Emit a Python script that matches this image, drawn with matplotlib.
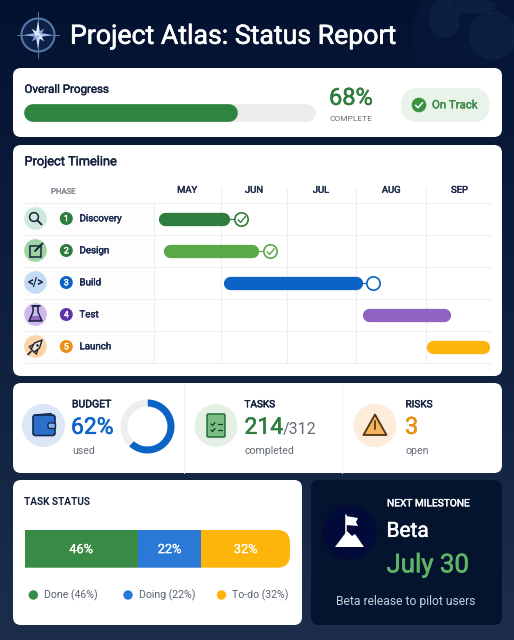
import matplotlib
matplotlib.use('Agg')
import matplotlib.pyplot as plt
import matplotlib.patheffects as pe
import numpy as np
from matplotlib.patches import Circle, FancyBboxPatch, Polygon, Rectangle
from matplotlib.path import Path

plt.rcParams['font.family'] = ['Roboto', 'DejaVu Sans']

W, H = 514, 640

# Data
progress_label = '68%'
progress_fill = 73.3  # the drawn bar is longer than the printed 68%
progress_track = 100

phases = ['Discovery', 'Design', 'Build', 'Test', 'Launch']
phase_starts = [0.06, 0.14, 1.02, 3.08, 4.03]  # in months from May 1
phase_ends = [1.12, 1.55, 3.09, 4.39, 4.97]
phase_colors = ['#2e7d3e', '#59a948', '#0b63c6', '#9062c4', '#fdb50c']
badge_colors = ['#2e7d3e', '#2e7d3e', '#0b63c6', '#5e35a8', '#ec8f14']
icon_colors = ['#cfe8dc', '#9fd3a2', '#c3dbf5', '#cfb8ea', '#fbd6a5']
milestone_pos = [1.283, 1.72, 3.24]
month_names = ['MAY', 'JUN', 'JUL', 'AUG', 'SEP']
month_centers = [0.49, 1.48, 2.47, 3.51, 4.52]
month_edges = [0, 0.985, 1.97, 2.99, 4.02]

budget_used = [62, 38]

status_names = ['Done (46%)', 'Doing (22%)', 'To-do (32%)']
status_labels = ['46%', '22%', '32%']
status_widths = [42.7, 23.8, 33.5]  # drawn lengths, % of bar
status_colors = ['#388a45', '#2a79d6', '#fdb50c']

NAVY = '#14213d'
GRAY = '#666c76'

fig = plt.figure(figsize=(W / 100, H / 100), dpi=100)


def px_axes(x0, y0, x1, y1, z=2):
    a = fig.add_axes([x0 / W, 1 - y1 / H, (x1 - x0) / W, (y1 - y0) / H], zorder=z)
    a.axis('off')
    return a


def pill(a, s, e, y, h, color, z=3):
    # bar with round ends, h in pixels
    pos = a.get_position()
    lo, hi = a.get_xlim()
    cap = (h / 2) / (pos.width * W / (hi - lo))
    a.plot([s + cap, e - cap], [y, y], color=color, lw=h * 0.72, solid_capstyle='round',
           zorder=z, clip_on=False)


# page background, all pixel coordinates
bg = px_axes(0, 0, W, H, z=0)
grad = np.linspace(0, 1, 256).reshape(-1, 1)
top, bottom = np.array([3, 18, 48]), np.array([28, 46, 76])
img = (top + (bottom - top) * grad) / 255
bg.imshow(img[:, None, :], extent=(0, W, H, 0), aspect='auto', zorder=0)
bg.set_xlim(0, W)
bg.set_ylim(H, 0)

# globe in the corner
gx, gy = np.meshgrid(np.arange(412, 516, 2.0), np.arange(0, 68, 2.0))
in_globe = (gx - 478) ** 2 + (gy - 38) ** 2 < 66 ** 2
land = (((gx - 492) / 24) ** 2 + ((gy - 35) / 24) ** 2 < 1) | \
       (((gx - 444) / 16) ** 2 + ((gy - 18) / 20) ** 2 < 1) | \
       (((gx - 470) / 26) ** 2 + ((gy - 6) / 8) ** 2 < 1)
bg.add_patch(Circle((478, 38), 66, color='#051636', zorder=1, lw=0))
bg.scatter(gx[in_globe & land], gy[in_globe & land], s=1.6, color='#14274b', lw=0, zorder=1)


def card(x0, y0, x1, y1, color='white', r=8):
    bg.add_patch(FancyBboxPatch((x0, y0), x1 - x0, y1 - y0, boxstyle=f'round,pad=0,rounding_size={r}',
                                fc=color, ec='none', zorder=2))


def label(x, y, s, size, color=NAVY, weight='medium', ha='left', z=6):
    # the font has no medium cut, so thicken the regular one a little
    t = bg.text(x, y + 0.8, s, fontsize=size, color=color, ha=ha, va='center', zorder=z)
    if weight == 'medium':
        t.set_path_effects([pe.withStroke(linewidth=0.2 + size * 0.012, foreground=color)])
    elif weight == 'bold':
        t.set_fontweight('bold')
    return t


def circle(x, y, r, color, z=4, **kw):
    bg.add_patch(Circle((x, y), r, color=color, lw=kw.pop('lw', 0), zorder=z, **kw))


def poly(points, fc='none', ec='none', lw=1.0, z=5):
    bg.add_patch(Polygon(points, closed=True, fc=fc, ec=ec, lw=lw, zorder=z, joinstyle='round'))


def stroke(xs, ys, color, lw=1.0, z=5):
    bg.plot(xs, ys, color=color, lw=lw, zorder=z, solid_capstyle='round', solid_joinstyle='round')


card(13, 68, 502, 137)
card(13, 145, 502, 376)
card(13, 383, 502, 473)
card(13, 480, 302, 625)
card(311, 480, 502, 625, color='#04142f')

# header: compass and title
bg.add_patch(Circle((38, 35), 16.5, fc='#0d2147', ec='#5577a8', lw=1.5, zorder=3))
stroke([38, 38], [12, 58], '#5a7cae', 0.7, z=3)
stroke([17, 59], [35, 35], '#5a7cae', 0.7, z=3)
for ang, ln, col in [(0, 14, '#e8f0ff'), (90, 14, '#a9c2ea'), (180, 14, '#cfdcf5'), (270, 14, '#8fb0e6'),
                     (45, 9, '#8fb0e6'), (135, 9, '#dfe8fa'), (225, 9, '#8fb0e6'), (315, 9, '#dfe8fa')]:
    t = np.radians(ang)
    tip = (38 + ln * np.sin(t), 35 - ln * np.cos(t))
    side = (2.4 * np.cos(t), 2.4 * np.sin(t))
    poly([tip, (38 + side[0], 35 + side[1]), (38 - side[0], 35 - side[1])], fc=col, z=4)
label(70, 35.5, 'Project Atlas: Status Report', 19.2, 'white')

# overall progress
label(24.5, 88.5, 'Overall Progress', 8.3)
prog = px_axes(24.5, 104, 316, 122)
prog.set_xlim(0, progress_track)
prog.set_ylim(-1, 1)
pill(prog, 0, progress_track, 0, 17.7, '#ececec', z=2)
pill(prog, 0, progress_fill, 0, 17.7, '#2e8540')
label(329, 97.5, progress_label, 17, '#2e7d3e')
label(329.5, 118, 'COMPLETE', 6, GRAY, weight='normal')
bg.add_patch(FancyBboxPatch((401, 88), 88.5, 34, boxstyle='round,pad=0,rounding_size=17',
                            fc='#e9f3ea', ec='none', zorder=3))
circle(419, 105, 7.3, '#3a9142')
stroke([415.5, 418, 422.5], [105.2, 107.8, 102.6], 'white', 1.1)
label(432, 104.5, 'On Track', 8.2, '#3a8a45')

# timeline
label(24.5, 161, 'Project Timeline', 9.2)
label(51, 191, 'PHASE', 5.6, '#8a8f98')
for i, name in enumerate(phases):
    yc = 219 + 32 * i
    bg.add_patch(Rectangle((18, yc - 16), 136, 32, fc='#fdfdfe', ec='none', zorder=3))
    circle(35.5, yc - 0.5, 11.3, icon_colors[i])
    circle(66.3, yc - 0.5, 6.5, badge_colors[i])
    label(66.3, yc - 1, str(i + 1), 6.3, 'white', ha='center')
    label(79.5, yc - 1.5, name, 7, '#1b2a4e')

# phase icons
dk = '#16233f'
circle(34, 217, 4.4, 'none', fill=False, ec=dk, lw=1.1, z=5)
stroke([37.3, 41.5], [220.3, 224.5], dk, 1.3)
bg.add_patch(Rectangle((30, 246), 10.5, 10.5, fc='none', ec=dk, lw=1.1, zorder=5))
stroke([35, 42.5], [251, 243.5], dk, 1.4)
label(35.5, 281.5, '</>', 8.4, dk, weight='bold', ha='center')
poly([(33, 306), (38, 306), (38, 312), (42, 321), (29, 321), (33, 312)], ec=dk, lw=1.1)
stroke([31.5, 39.5], [305.5, 305.5], dk, 1.2)
poly([(30, 318), (30, 316), (38, 316), (41, 318), (41, 321), (30, 321)], fc='#8f6ac0', z=4)
poly([(42, 340), (39.5, 348), (34, 352), (31, 349), (34.5, 343)], fc='#f7e6cb', ec=dk, lw=1.0)
circle(37.5, 345.5, 1.3, dk, z=6)
poly([(33, 344.5), (29, 346.5), (31.5, 349.5)], fc='#e15b2c', ec=dk, lw=0.7)
poly([(38, 350), (36.5, 354.5), (34, 352)], fc='#e15b2c', ec=dk, lw=0.7)
stroke([28, 31], [354.5, 351.5], dk, 1.2)

gantt = px_axes(154, 188, 492, 363)
gantt.set_xlim(0, 5)
gantt.set_ylim(4.5, -0.97)
gantt.hlines(np.arange(-0.5, 5), -1.93, 5, color='#eff1f3', lw=0.8, zorder=1, clip_on=False)
gantt.vlines(month_edges[1:], -0.97, 4.5, color='#eceef1', lw=0.8, zorder=1)
gantt.vlines(month_edges[0], -0.5, 4.5, color='#eceef1', lw=0.8, zorder=1)
for m, c in zip(month_names, month_centers):
    t = gantt.text(c, -0.9, m, fontsize=6.8, color='#1e2a4a', ha='center', va='center')
    t.set_path_effects([pe.withStroke(linewidth=0.3, foreground='#1e2a4a')])
for i in range(len(phases)):
    pill(gantt, phase_starts[i], phase_ends[i], i, 13.3, phase_colors[i])
check = Path([(-0.5, 0.0), (-0.12, -0.38), (0.55, 0.42)])
for i, mx in enumerate(milestone_pos):
    gantt.plot([phase_ends[i], mx], [i, i], color=phase_colors[i], lw=0.9, zorder=2)
    gantt.plot(mx, i, 'o', ms=9.6, mfc='white', mec=phase_colors[i], mew=1.2, zorder=4)
    if i < 2:
        gantt.plot(mx, i, marker=check, ms=6, mfc='none', mec=phase_colors[i], mew=1.0, zorder=5)

# kpi row
for x in [184, 342]:
    stroke([x, x], [383, 473], '#eef1f5', 0.8, z=3)
for x, col in [(43.5, '#dbe7f6'), (216, '#e5f0e5'), (375, '#fdecd9')]:
    circle(x, 425.5, 21.5, col, z=3)

label(72, 403.5, 'BUDGET', 7.5)
label(71, 426.5, '62%', 16.5, '#0b63c6')
label(72, 450, 'used', 7.6, GRAY, weight='normal')
bg.add_patch(FancyBboxPatch((33, 415), 22, 20.5, boxstyle='round,pad=0,rounding_size=2.5',
                            fc='#2d6fc9', ec='#12294f', lw=1.2, zorder=4))
bg.add_patch(FancyBboxPatch((48, 423), 7.5, 5.5, boxstyle='round,pad=0,rounding_size=1.5',
                            fc='#7fb0ea', ec='#12294f', lw=1.0, zorder=5))
stroke([35, 51, 51.5], [415, 413.5, 415], '#12294f', 1.0)

donut = px_axes(120.5, 399.5, 174.5, 453.5)
donut.pie(budget_used, colors=['#0b63c6', '#eeeeee'], startangle=90, counterclock=False, radius=1,
          wedgeprops=dict(width=0.26, lw=0))
donut.set_xlim(-1, 1)
donut.set_ylim(-1, 1)

label(244.5, 403.5, 'TASKS', 7.2)
label(244.5, 426.5, '214', 16.5, '#2e7d3e')
label(283, 429, '/312', 11.5, GRAY, weight='normal')
label(244.5, 450, 'completed', 7.6, GRAY, weight='normal')
bg.add_patch(FancyBboxPatch((207, 414), 18, 23, boxstyle='round,pad=0,rounding_size=1.5',
                            fc='#7cbd84', ec='#1f6b35', lw=1.1, zorder=4))
for yy in [424, 430]:
    stroke([211, 212.5, 215], [yy, yy + 1.5, yy - 1.5], '#123f22', 0.9)
    stroke([217.5, 222], [yy, yy], '#123f22', 0.9)

label(405.5, 403.5, 'RISKS', 7.2)
label(405, 426.5, '3', 17, '#e8901a')
label(405.5, 450, 'open', 7.6, GRAY, weight='normal')
poly([(375, 414.5), (386.5, 435), (363.5, 435)], fc='#f6b45c', ec='#4a3413', lw=1.3)
stroke([375, 375], [421, 429], '#4a3413', 1.2)
stroke([375, 375], [432, 432.2], '#4a3413', 1.3)

# task status
label(24.5, 501.5, 'TASK STATUS', 7.2, weight='bold')
stack = px_axes(24.5, 530, 290, 567.7)
stack.set_xlim(0, 100)
stack.set_ylim(0, 1)
clip = FancyBboxPatch((-20, 530), 310, 37.7, boxstyle='round,pad=0,rounding_size=13', transform=bg.transData)
left = 0
for i, w in enumerate(status_widths):
    bar = stack.barh(0.5, w, left=left, height=1, color=status_colors[i], lw=0)[0]
    bar.set_clip_path(clip)
    t = stack.text(left + w / 2, 0.48, status_labels[i], color='white', fontsize=9.2, ha='center', va='center')
    t.set_path_effects([pe.withStroke(linewidth=0.15, foreground='white')])
    left += w
for x, name, col in zip([33.3, 128, 221.5], status_names, status_colors):
    circle(x, 595, 4.7, col)
    label(x + 11, 594.5, name, 7.6, '#5a6270', weight='normal')

# next milestone
circle(349.5, 532.5, 27, '#020a3a', z=3)
stroke([345.5, 345.5], [515, 538], 'white', 1.1)
poly([(346, 516), (358, 518), (356, 522), (358, 526), (346, 525)], fc='white')
poly([(335, 547), (347, 531), (352, 536), (355, 534), (364, 547)], fc='white')
label(387, 502.5, 'NEXT MILESTONE', 7.3, 'white')
label(386.5, 530.5, 'Beta', 15, 'white')
label(386.5, 564.5, 'July 30', 18.6, '#5fb566')
label(405.5, 600.5, 'Beta release to pilot users', 8.7, '#c5d0de', weight='normal', ha='center')

fig.savefig('out.png', dpi=100)
